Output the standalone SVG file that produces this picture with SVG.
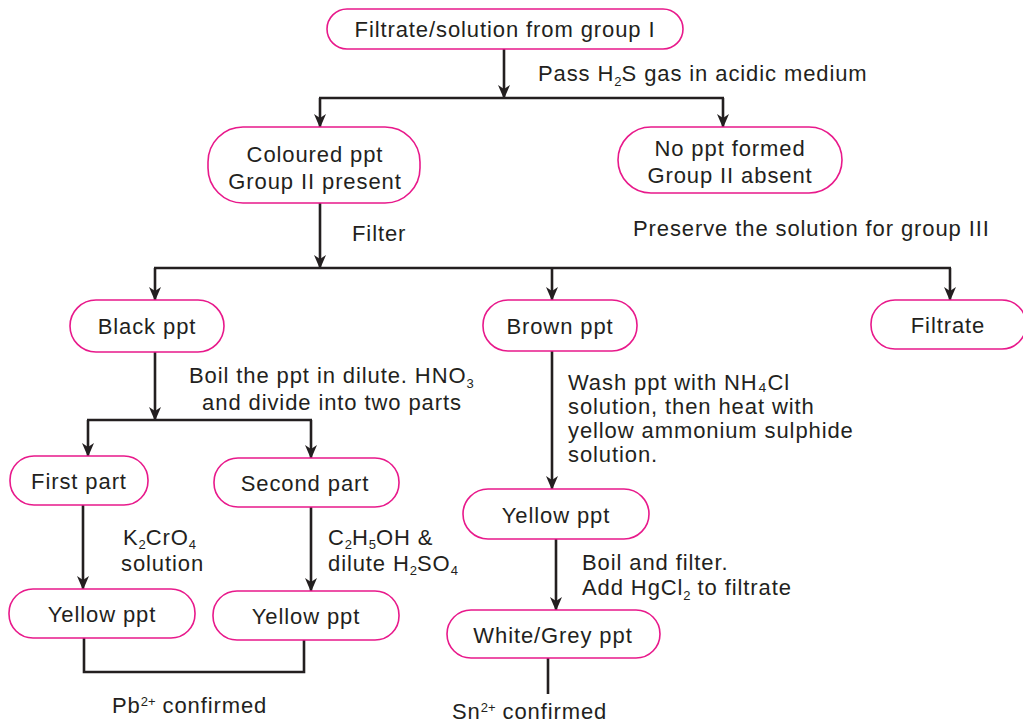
<svg xmlns="http://www.w3.org/2000/svg" width="1023" height="722" viewBox="0 0 1023 722">
<defs>
<style>
.n{fill:#fff;stroke:#e8198b;stroke-width:1.6}
.t{font-family:"Liberation Sans",Arial,sans-serif;font-size:22px;letter-spacing:0.9px;fill:#231f20}
.m{text-anchor:middle}
.c{fill:none;stroke:#231f20;stroke-width:2.6}
.s{font-size:13px;letter-spacing:0}
</style>
<marker id="a" viewBox="0 0 14 12" refX="13" refY="6" markerWidth="14" markerHeight="12" markerUnits="userSpaceOnUse" orient="auto">
<path d="M0,0 L14,6 L0,12 L4,6 z" fill="#231f20"/>
</marker>
</defs>
<rect width="1023" height="722" fill="#fff"/>
<g id="connectors">
<path class="c" d="M504,49 V98" marker-end="url(#a)"/>
<path class="c" d="M319,98 H724"/>
<path class="c" d="M320,98 V127" marker-end="url(#a)"/>
<path class="c" d="M723,98 V127" marker-end="url(#a)"/>
<path class="c" d="M320,203 V268" marker-end="url(#a)"/>
<path class="c" d="M154,268 H951"/>
<path class="c" d="M155,268 V300" marker-end="url(#a)"/>
<path class="c" d="M552,268 V300" marker-end="url(#a)"/>
<path class="c" d="M950,268 V300" marker-end="url(#a)"/>
<path class="c" d="M155,352 V420" marker-end="url(#a)"/>
<path class="c" d="M87,420 H312"/>
<path class="c" d="M88,420 V456" marker-end="url(#a)"/>
<path class="c" d="M311,420 V458" marker-end="url(#a)"/>
<path class="c" d="M83,505 V589" marker-end="url(#a)"/>
<path class="c" d="M311,507 V591" marker-end="url(#a)"/>
<path class="c" d="M84,638 V672 H304 V640"/>
<path class="c" d="M552,351 V489" marker-end="url(#a)"/>
<path class="c" d="M556,539 V610" marker-end="url(#a)"/>
<path class="c" d="M548,658 V694"/>
</g>
<g id="n1"><rect class="n" x="327" y="9" width="356" height="40" rx="20"/><text class="t m" x="505" y="37">Filtrate/solution from group I</text></g>
<g id="n2"><rect class="n" x="208" y="127" width="212" height="76" rx="35"/><text class="t m" x="315" y="162">Coloured ppt</text><text class="t m" x="315" y="189">Group II present</text></g>
<g id="n3"><rect class="n" x="618" y="127" width="224" height="66" rx="33"/><text class="t m" x="730" y="156">No ppt formed</text><text class="t m" x="730" y="183">Group II absent</text></g>
<g id="n4"><rect class="n" x="70" y="300" width="154" height="52" rx="26"/><text class="t m" x="147" y="334">Black ppt</text></g>
<g id="n5"><rect class="n" x="483" y="300" width="154" height="51" rx="25"/><text class="t m" x="560" y="334">Brown ppt</text></g>
<g id="n6"><rect class="n" x="871" y="300" width="155" height="49" rx="24"/><text class="t m" x="948" y="333">Filtrate</text></g>
<g id="n7"><rect class="n" x="10" y="456" width="138" height="49" rx="24"/><text class="t m" x="79" y="489">First part</text></g>
<g id="n8"><rect class="n" x="214" y="458" width="185" height="49" rx="24"/><text class="t m" x="305" y="491">Second part</text></g>
<g id="n9"><rect class="n" x="9" y="589" width="186" height="49" rx="24"/><text class="t m" x="102" y="622">Yellow ppt</text></g>
<g id="n10"><rect class="n" x="213" y="591" width="186" height="49" rx="24"/><text class="t m" x="306" y="624">Yellow ppt</text></g>
<g id="n11"><rect class="n" x="463" y="489" width="186" height="50" rx="25"/><text class="t m" x="556" y="523">Yellow ppt</text></g>
<g id="n12"><rect class="n" x="447" y="610" width="213" height="48" rx="24"/><text class="t m" x="553" y="643">White/Grey ppt</text></g>
<g id="labels">
<text class="t" x="538" y="81">Pass H<tspan class="s" dy="5">2</tspan><tspan dy="-5">S gas in acidic medium</tspan></text>
<text class="t" x="633" y="236">Preserve the solution for group III</text>
<text class="t" x="352" y="241">Filter</text>
<text class="t" x="189" y="383">Boil the ppt in dilute. HNO<tspan class="s" dy="5">3</tspan></text>
<text class="t m" x="332" y="410">and divide into two parts</text>
<text class="t" x="568" y="390">Wash ppt with NH₄Cl</text>
<text class="t" x="568" y="414">solution, then heat with</text>
<text class="t" x="568" y="438">yellow ammonium sulphide</text>
<text class="t" x="568" y="462">solution.</text>
<text class="t" x="123" y="545">K<tspan class="s" dy="4">2</tspan><tspan dy="-4">CrO</tspan><tspan class="s" dy="4">4</tspan></text>
<text class="t" x="121" y="571">solution</text>
<text class="t" x="328" y="545">C<tspan class="s" dy="4">2</tspan><tspan dy="-4">H</tspan><tspan class="s" dy="4">5</tspan><tspan dy="-4">OH &amp;</tspan></text>
<text class="t" x="328" y="571">dilute H<tspan class="s" dy="4">2</tspan><tspan dy="-4">SO</tspan><tspan class="s" dy="4">4</tspan></text>
<text class="t" x="582" y="570">Boil and filter.</text>
<text class="t" x="582" y="595">Add HgCl<tspan class="s" dy="5">2</tspan><tspan dy="-5"> to filtrate</tspan></text>
<text class="t" x="112" y="713">Pb<tspan class="s" dy="-7">2+</tspan><tspan dy="7"> confirmed</tspan></text>
<text class="t" x="452" y="719">Sn<tspan class="s" dy="-7">2+</tspan><tspan dy="7"> confirmed</tspan></text>
</g>
</svg>
